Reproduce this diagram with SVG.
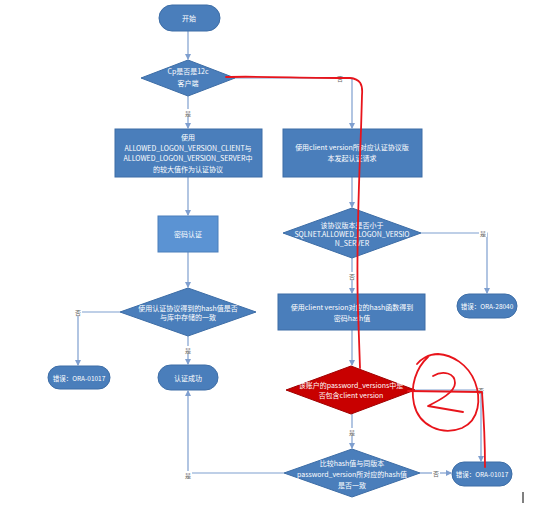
<svg xmlns="http://www.w3.org/2000/svg" width="554" height="507" viewBox="0 0 554 507">
<defs>
<marker id="a" markerWidth="6" markerHeight="6" refX="5" refY="3" orient="auto" markerUnits="userSpaceOnUse">
<path d="M0,0 L6,3 L0,6 Z" fill="#7f9fcf"/>
</marker>
<style>
.n{fill:#4a7ebb;stroke:#3d6da6;stroke-width:1}
.n2{fill:#5b93d3;stroke:#4a7ebb;stroke-width:1}
.r{fill:#c80000;stroke:#a00000;stroke-width:1}
.t{font-family:"Noto Sans CJK SC","Noto Sans",sans-serif;font-size:7px;fill:#fff;text-anchor:middle;dominant-baseline:central}
.c{fill:none;stroke:#7f9fcf;stroke-width:1.2;marker-end:url(#a)}
.cl{fill:none;stroke:#7f9fcf;stroke-width:1.2}
.l{font-family:"Noto Sans CJK SC","Noto Sans",sans-serif;font-size:6px;fill:#666;text-anchor:middle;dominant-baseline:central}
.lb{fill:#fff}
.red{fill:none;stroke:#e8141b;stroke-width:1.8;stroke-linecap:round;stroke-linejoin:round}
</style>
</defs>
<rect width="554" height="507" fill="#fff"/>
<g id="connectors">
<path class="c" d="M188,31 L188,59"/>
<path class="c" d="M188,96 L188,128"/>
<path class="c" d="M235,78 L352,78 L352,128"/>
<path class="c" d="M188,177 L188,215"/>
<path class="c" d="M352,177 L352,207"/>
<path class="c" d="M188,252 L188,287"/>
<path class="c" d="M421,233 L487,233 L487,293"/>
<path class="c" d="M352,258 L352,293"/>
<path class="c" d="M352,330 L352,365"/>
<path class="c" d="M120,312 L78,312 L78,365"/>
<path class="c" d="M188,336 L188,364"/>
<path class="c" d="M415,390 L481,390 L481,461"/>
<path class="c" d="M352,414 L352,448"/>
<path class="c" d="M420,473 L451,473"/>
<path class="c" d="M284,473 L188,473 L188,391"/>
<g id="labels">
<rect class="lb" x="184" y="109" width="8" height="8"/><text class="l" x="188" y="113">是</text>
<rect class="lb" x="336" y="74" width="8" height="8"/><text class="l" x="340" y="78">否</text>
<rect class="lb" x="479" y="229" width="8" height="8"/><text class="l" x="483" y="233">是</text>
<rect class="lb" x="348" y="272" width="8" height="8"/><text class="l" x="352" y="276">否</text>
<rect class="lb" x="74" y="308" width="8" height="8"/><text class="l" x="78" y="312">否</text>
<rect class="lb" x="184" y="346" width="8" height="8"/><text class="l" x="188" y="350">是</text>
<rect class="lb" x="477" y="386" width="8" height="8"/><text class="l" x="481" y="390">否</text>
<rect class="lb" x="348" y="428" width="8" height="8"/><text class="l" x="352" y="432">是</text>
<rect class="lb" x="432" y="469" width="8" height="8"/><text class="l" x="436" y="473">否</text>
<rect class="lb" x="184" y="471" width="8" height="8"/><text class="l" x="188" y="475">是</text>
</g>
</g>
<g id="start"><rect class="n" x="159" y="5" width="61" height="26" rx="13"/><text class="t" x="189" y="18">开始</text></g>
<g id="d1"><polygon class="n" points="141,78 188,60 235,78 188,96"/><text class="t" x="188" y="71">Cp是否是12c</text><text class="t" x="188" y="83">客户端</text></g>
<g id="box1"><rect class="n" x="115" y="129" width="147" height="48"/>
<text class="t" x="188" y="137">使用</text>
<text class="t" x="188" y="147.5">ALLOWED_LOGON_VERSION_CLIENT与</text>
<text class="t" x="188" y="158">ALLOWED_LOGON_VERSION_SERVER中</text>
<text class="t" x="188" y="169">的较大值作为认证协议</text></g>
<g id="box2"><rect class="n" x="283" y="129" width="139" height="48"/>
<text class="t" x="352" y="147">使用client version所对应认证协议版</text>
<text class="t" x="352" y="158">本发起认证请求</text></g>
<g id="box3"><rect class="n2" x="158" y="216" width="60" height="36"/><text class="t" x="188" y="234">密码认证</text></g>
<g id="d2"><polygon class="n" points="283,233 352,208 421,233 352,258"/>
<text class="t" x="352" y="224.5">该协议版本是否小于</text>
<text class="t" x="352" y="234">SQLNET.ALLOWED_LOGON_VERSIO</text>
<text class="t" x="352" y="243">N_SERVER</text></g>
<g id="err1"><rect class="n" x="457" y="294" width="60" height="24" rx="12"/><text class="t" x="487" y="306" style="font-size:6.5px">错误：ORA-28040</text></g>
<g id="box4"><rect class="n" x="278" y="294" width="147" height="36"/>
<text class="t" x="352" y="307">使用client version对应的hash函数得到</text>
<text class="t" x="352" y="318">密码hash值</text></g>
<g id="d3"><polygon class="n" points="120,312 188,288 256,312 188,336"/>
<text class="t" x="188" y="307.5">使用认证协议得到的hash值是否</text>
<text class="t" x="188" y="317">与库中存储的一致</text></g>
<g id="err2"><rect class="n" x="48" y="366" width="62" height="23" rx="11.5"/><text class="t" x="79" y="377.5" style="font-size:6.5px">错误：ORA-01017</text></g>
<g id="ok"><rect class="n" x="158" y="365" width="60" height="25" rx="12.5"/><text class="t" x="188" y="377.5">认证成功</text></g>
<g id="d5"><polygon class="r" points="286,390 351,366 415,390 351,414"/>
<text class="t" x="351" y="385">该账户的password_versions中是</text>
<text class="t" x="351" y="395">否包含client version</text></g>
<g id="d4"><polygon class="n" points="284,473 352,449 420,473 352,497"/>
<text class="t" x="352" y="463">比较hash值与同版本</text>
<text class="t" x="352" y="474">password_version所对应的hash值</text>
<text class="t" x="352" y="485">是否一致</text></g>
<g id="err3"><rect class="n" x="452" y="462" width="60" height="24" rx="12"/><text class="t" x="482" y="474" style="font-size:6.5px">错误：ORA-01017</text></g>
<g id="annotations">
<path class="red" d="M226,77 C260,76 300,78 350,78 C360,79 363,84 362,95 L361,130 C359,180 356,250 358,310 L360,368"/>
<path class="red" d="M408,391 L482,392 C484,420 485,440 485,467"/>
<path class="red" d="M428,357 C416,368 410,386 414,404 C419,426 442,436 462,428 C480,420 481,398 475,382 C468,364 452,355 438,354 C428,354 420,360 417,364"/>
<path class="red" d="M433,376 C443,370 455,373 455,383 C455,392 440,400 428,406 L463,412"/>
</g>
<line x1="523" y1="492" x2="523" y2="503" stroke="#000" stroke-width="1"/>
</svg>
